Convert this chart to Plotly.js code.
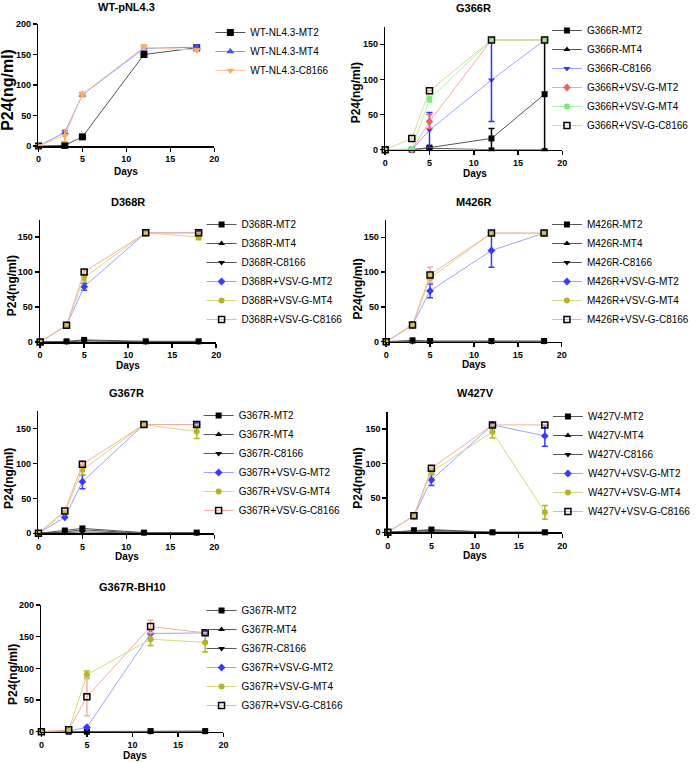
<!DOCTYPE html>
<html><head><meta charset="utf-8">
<script src="https://cdn.plot.ly/plotly-3.0.1.min.js"></script>
<style>body{margin:0;background:#fff;}#chart{width:696px;height:762px;}</style>
</head><body><div id="chart"></div><script>
// ---------------- DATA ----------------
const days = [0, 3, 5, 12, 18];

// WT-pNL4.3
const wtMT2 = [0, 1, 15, 150, 161];      const wtMT2Err = [0, 0, 0, 4, 0];
const wtMT4 = [0, 22, 84, 160, 162];     const wtMT4Err = [0, 3, 3, 3, 2];
const wtC8166 = [0, 17, 85, 162, 157];   const wtC8166Err = [0, 10, 3, 4, 2];

// G366R
const g366MT2 = [0, 0, 3, 16, 79];       const g366MT2Err = [0, 0, 1, 14, 78];
const g366MT4 = [0, 0, 2, 0, 0];         const g366MT4Err = [0, 0, 0, 0, 0];
const g366C8166 = [0, 0, 28, 99, 156];   const g366C8166Err = [0, 0, 25, 59, 0];
const g366vMT2 = [0, 0, 40, 156, 156];   const g366vMT2Err = [0, 0, 10, 0, 0];
const g366vMT4 = [0, 1, 72, 156, 156];   const g366vMT4Err = [0, 0, 4, 0, 0];
const g366vC8166 = [0, 16, 84, 156, 156]; const g366vC8166Err = [0, 0, 0, 0, 0];

// D368R
const d368MT2 = [0, 1, 3, 1, 1];
const d368MT4 = [0, 0, 2, 0, 0];
const d368C8166 = [0, 0, 1, 0, 0];
const d368vMT2 = [0, 24, 79, 156, 156];  const d368vMT2Err = [0, 0, 5, 0, 0];
const d368vMT4 = [0, 24, 92, 156, 150];  const d368vMT4Err = [0, 0, 5, 0, 4];
const d368vC8166 = [0, 24, 100, 156, 156]; const d368vC8166Err = [0, 0, 2, 0, 0];

// M426R
const m426MT2 = [0, 2, 1, 1, 1];
const m426MT4 = [0, 0, 0, 0, 0];
const m426C8166 = [0, 0, 0, 0, 0];
const m426vMT2 = [0, 24, 73, 131, 156];  const m426vMT2Err = [0, 0, 10, 24, 0];
const m426vMT4 = [0, 24, 91, 156, 156];  const m426vMT4Err = [0, 0, 6, 0, 0];
const m426vC8166 = [0, 24, 96, 156, 156]; const m426vC8166Err = [0, 0, 11, 0, 0];

// G367R
const g367MT2 = [0, 4, 7, 1, 1];
const g367MT4 = [0, 2, 5, 0, 0];
const g367C8166 = [0, 1, 2, 0, 0];
const g367vMT2 = [0, 23, 74, 156, 156];  const g367vMT2Err = [0, 0, 10, 0, 0];
const g367vMT4 = [0, 30, 91, 156, 146];  const g367vMT4Err = [0, 0, 7, 0, 10];
const g367vC8166 = [0, 32, 99, 156, 156]; const g367vC8166Err = [0, 0, 3, 0, 0];

// W427V
const w427MT2 = [0, 3, 4, 0, 0];
const w427MT4 = [0, 2, 3, 0, 0];
const w427C8166 = [0, 1, 1, 0, 0];
const w427vMT2 = [0, 24, 76, 156, 140];  const w427vMT2Err = [0, 0, 8, 0, 15];
const w427vMT4 = [0, 24, 88, 146, 29];   const w427vMT4Err = [0, 0, 4, 9, 10];
const w427vC8166 = [0, 24, 93, 156, 156]; const w427vC8166Err = [0, 0, 3, 0, 0];

// G367R-BH10
const bhMT2 = [0, 0, 0, 1, 1];
const bhMT4 = [0, 0, 0, 0, 0];
const bhC8166 = [0, 0, 0, 0, 0];
const bhvMT2 = [0, 1, 7, 155, 156];      const bhvMT2Err = [0, 0, 1, 0, 0];
const bhvMT4 = [0, 2, 90, 146, 141];     const bhvMT4Err = [0, 0, 6, 10, 15];
const bhvC8166 = [0, 3, 55, 166, 156];   const bhvC8166Err = [0, 0, 30, 10, 0];

// ---------------- STYLES / LAYOUT ----------------
const W = 696, H = 762;
const FONT = 'Arial, "Liberation Sans", sans-serif';
const BLUE = '#3a3aff', BLUEL = '#a0a0ff';
const OLIVE = '#b4b424', OLIVEL = '#d8d880';
const PINKL = '#f2b0a4';
const GRAYL = '#555555';

const boxes = [
  {l: 39.3, r: 219, t: 24, b: 146, ymax: 200, legX: 215, legY: 30},
  {l: 393.7, r: 574.7, t: 26.7, b: 149.7, ymax: 175, legX: 559, legY: 28},
  {l: 41, r: 221, t: 219.5, b: 342, ymax: 175, legX: 206, legY: 222},
  {l: 394.7, r: 574, t: 219.9, b: 341.7, ymax: 175, legX: 559, legY: 222},
  {l: 39.3, r: 219, t: 411.3, b: 533.3, ymax: 175, legX: 203, legY: 413},
  {l: 396.3, r: 574.7, t: 411.8, b: 532.3, ymax: 175, legX: 560, legY: 414},
  {l: 42.3, r: 228.3, t: 605, b: 731.7, ymax: 200, legX: 206, legY: 608}
];

const labels = [
  {title: 'WT-pNL4.3', tx: 129, ty: 7, dx: 129, dy: 171, px: 7, py: 90, ps: 16},
  {title: 'G366R', tx: 484.2, ty: 8, dx: 485.7, dy: 173.3, px: 363.7, py: 92.5, ps: 12},
  {title: 'D368R', tx: 131, ty: 201.7, dx: 130.7, dy: 365, px: 11.7, py: 285.8, ps: 12},
  {title: 'M426R', tx: 484.7, ty: 202.3, dx: 484, dy: 364.3, px: 366.3, py: 289.2, ps: 12},
  {title: 'G367R', tx: 129, ty: 392.7, dx: 129.3, dy: 556.7, px: 9, py: 478.3, ps: 12},
  {title: 'W427V', tx: 485.7, ty: 393.3, dx: 485.3, dy: 555.7, px: 366.3, py: 478.3, ps: 12},
  {title: 'G367R-BH10', tx: 135, ty: 586.7, dx: 138.3, dy: 755, px: 13.3, py: 675, ps: 12}
];

const traces = [];
function add(p, name, y, err, sym, mcol, lcol, msize) {
  const idx = p === 0 ? '' : String(p + 1);
  const open = sym.indexOf('open') >= 0;
  const t = {
    type: 'scatter', mode: 'lines+markers', x: days, y: y, name: name,
    xaxis: 'x' + idx, yaxis: 'y' + idx, legend: 'legend' + idx,
    cliponaxis: false,
    line: {color: lcol, width: 1},
    marker: {symbol: sym, color: mcol, size: msize || 6,
             line: {color: mcol, width: open ? 1.5 : 0}}
  };
  if (err) t.error_y = {type: 'data', array: err, visible: true, color: open ? PINKL : mcol, thickness: 1.5, width: 3};
  traces.push(t);
}

// Panel 1
add(0, 'WT-NL4.3-MT2', wtMT2, wtMT2Err, 'square', '#000', GRAYL, 7);
add(0, 'WT-NL4.3-MT4', wtMT4, wtMT4Err, 'triangle-up', '#4a4aff', '#8f8fff', 7);
add(0, 'WT-NL4.3-C8166', wtC8166, wtC8166Err, 'triangle-down', '#f5b062', '#f5c8a2', 7);
// Panel 2
add(1, 'G366R-MT2', g366MT2, g366MT2Err, 'square', '#000', GRAYL);
add(1, 'G366R-MT4', g366MT4, g366MT4Err, 'triangle-up', '#000', GRAYL);
add(1, 'G366R-C8166', g366C8166, g366C8166Err, 'triangle-down', '#3030ff', BLUEL);
add(1, 'G366R+VSV-G-MT2', g366vMT2, g366vMT2Err, 'diamond', '#f06060', '#f5a8a8');
add(1, 'G366R+VSV-G-MT4', g366vMT4, g366vMT4Err, 'circle', '#74ee74', '#b0f0b0');
add(1, 'G366R+VSV-G-C8166', g366vC8166, g366vC8166Err, 'square-open', '#000', '#dcd890');
// Panel 3
add(2, 'D368R-MT2', d368MT2, null, 'square', '#000', GRAYL);
add(2, 'D368R-MT4', d368MT4, null, 'triangle-up', '#000', GRAYL);
add(2, 'D368R-C8166', d368C8166, null, 'triangle-down', '#000', GRAYL);
add(2, 'D368R+VSV-G-MT2', d368vMT2, d368vMT2Err, 'diamond', BLUE, BLUEL);
add(2, 'D368R+VSV-G-MT4', d368vMT4, d368vMT4Err, 'circle', OLIVE, OLIVEL);
add(2, 'D368R+VSV-G-C8166', d368vC8166, d368vC8166Err, 'square-open', '#000', PINKL);
// Panel 4
add(3, 'M426R-MT2', m426MT2, null, 'square', '#000', GRAYL);
add(3, 'M426R-MT4', m426MT4, null, 'triangle-up', '#000', GRAYL);
add(3, 'M426R-C8166', m426C8166, null, 'triangle-down', '#000', GRAYL);
add(3, 'M426R+VSV-G-MT2', m426vMT2, m426vMT2Err, 'diamond', BLUE, BLUEL);
add(3, 'M426R+VSV-G-MT4', m426vMT4, m426vMT4Err, 'circle', OLIVE, OLIVEL);
add(3, 'M426R+VSV-G-C8166', m426vC8166, m426vC8166Err, 'square-open', '#000', PINKL);
// Panel 5
add(4, 'G367R-MT2', g367MT2, null, 'square', '#000', GRAYL);
add(4, 'G367R-MT4', g367MT4, null, 'triangle-up', '#000', GRAYL);
add(4, 'G367R-C8166', g367C8166, null, 'triangle-down', '#000', GRAYL);
add(4, 'G367R+VSV-G-MT2', g367vMT2, g367vMT2Err, 'diamond', BLUE, BLUEL);
add(4, 'G367R+VSV-G-MT4', g367vMT4, g367vMT4Err, 'circle', OLIVE, OLIVEL);
add(4, 'G367R+VSV-G-C8166', g367vC8166, g367vC8166Err, 'square-open', '#000', PINKL);
// Panel 6
add(5, 'W427V-MT2', w427MT2, null, 'square', '#000', GRAYL);
add(5, 'W427V-MT4', w427MT4, null, 'triangle-up', '#000', GRAYL);
add(5, 'W427V-C8166', w427C8166, null, 'triangle-down', '#000', GRAYL);
add(5, 'W427V+VSV-G-MT2', w427vMT2, w427vMT2Err, 'diamond', BLUE, BLUEL);
add(5, 'W427V+VSV-G-MT4', w427vMT4, w427vMT4Err, 'circle', OLIVE, OLIVEL);
add(5, 'W427V+VSV-G-C8166', w427vC8166, w427vC8166Err, 'square-open', '#000', PINKL);
// Panel 7
add(6, 'G367R-MT2', bhMT2, null, 'square', '#000', GRAYL);
add(6, 'G367R-MT4', bhMT4, null, 'triangle-up', '#000', GRAYL);
add(6, 'G367R-C8166', bhC8166, null, 'triangle-down', '#000', GRAYL);
add(6, 'G367R+VSV-G-MT2', bhvMT2, bhvMT2Err, 'diamond', BLUE, BLUEL);
add(6, 'G367R+VSV-G-MT4', bhvMT4, bhvMT4Err, 'circle', OLIVE, OLIVEL);
add(6, 'G367R+VSV-G-C8166', bhvC8166, bhvC8166Err, 'square-open', '#000', PINKL);

const layout = {
  width: W, height: H, margin: {l: 0, r: 0, t: 0, b: 0},
  paper_bgcolor: '#fff', plot_bgcolor: 'rgba(0,0,0,0)',
  font: {family: FONT, color: '#000'},
  annotations: []
};

const axBase = {
  showgrid: false, zeroline: false, showline: true, linecolor: '#000', linewidth: 1.5,
  ticks: 'outside', ticklen: 4, tickwidth: 1.5, tickcolor: '#000',
  tickfont: {family: FONT, size: 9, weight: 'bold', color: '#000'},
  fixedrange: true
};

boxes.forEach((b, i) => {
  const idx = i === 0 ? '' : String(i + 1);
  layout['xaxis' + idx] = Object.assign({}, axBase, {
    domain: [b.l / W, b.r / W], anchor: 'y' + idx, range: [0, 20],
    tickvals: [0, 5, 10, 15, 20]
  });
  layout['yaxis' + idx] = Object.assign({}, axBase, {
    domain: [1 - b.b / H, 1 - b.t / H], anchor: 'x' + idx, range: [0, b.ymax],
    tickmode: 'linear', tick0: 0, dtick: 50
  });
  layout['legend' + idx] = {
    x: b.legX / W, y: 1 - (b.legY - 12) / H, xanchor: 'left', yanchor: 'top',
    font: {family: FONT, size: 10, color: '#000'}, itemwidth: 30,
    bgcolor: 'rgba(0,0,0,0)', tracegroupgap: 0, itemclick: false
  };
  const L = labels[i];
  layout.annotations.push({text: L.title, x: L.tx / W, y: 1 - L.ty / H, xref: 'paper', yref: 'paper',
    showarrow: false, xanchor: 'center', yanchor: 'middle', font: {family: FONT, size: 11, weight: 'bold'}});
  layout.annotations.push({text: 'Days', x: L.dx / W, y: 1 - L.dy / H, xref: 'paper', yref: 'paper',
    showarrow: false, xanchor: 'center', yanchor: 'middle', font: {family: FONT, size: 10, weight: 'bold'}});
  layout.annotations.push({text: 'P24(ng/ml)', x: L.px / W, y: 1 - L.py / H, xref: 'paper', yref: 'paper',
    showarrow: false, xanchor: 'center', yanchor: 'middle', textangle: -90,
    font: {family: FONT, size: L.ps, weight: 'bold'}});
});

Plotly.newPlot('chart', traces, layout, {staticPlot: true, displayModeBar: false});
</script></body></html>
